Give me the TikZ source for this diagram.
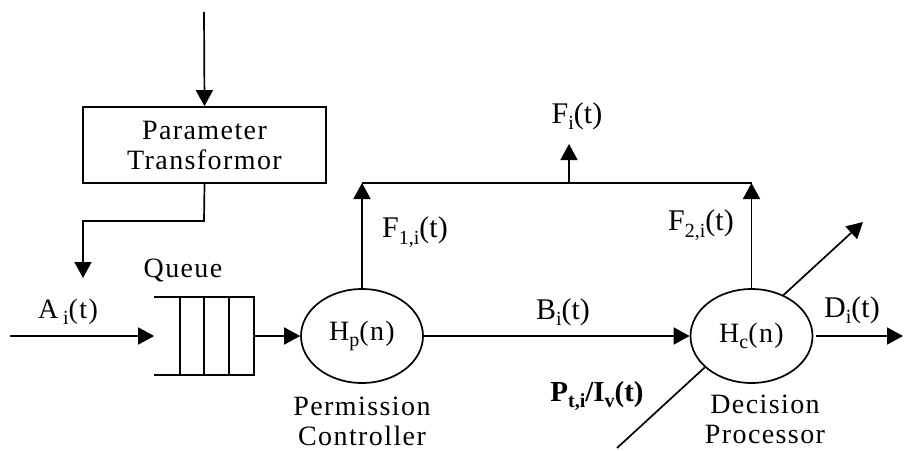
\documentclass[tikz,border=0pt]{standalone}
\usepackage{fontspec}
\setmainfont{Liberation Serif}
\newfontfamily\spacedfont[LetterSpace=5]{Liberation Serif}
\usetikzlibrary{arrows.meta,shapes.geometric}
\newcommand{\lowsub}[1]{\raisebox{-6.5pt}{\fontsize{20}{20}\selectfont #1}}
\begin{document}
\begin{tikzpicture}[x=1pt,y=-1pt,
  line width=1.7pt,
  arr/.style={-{Triangle[length=16pt,width=17pt]}},
  lbl/.style={font=\fontsize{30}{30}\selectfont, inner sep=0pt},
  slbl/.style={font=\fontsize{28}{30}\spacedfont, inner sep=0pt, align=center},
  blk/.style={draw, minimum width=243pt, minimum height=76pt, inner sep=0pt},
  proc/.style={draw, ellipse, fill=white, minimum width=122pt, minimum height=94pt, inner sep=0pt}]
\useasboundingbox (0,0) rectangle (904,450);
% coordinates
\coordinate (ptop) at (204,12);
\coordinate (bend) at (204,221);
\coordinate (atip) at (83,278);
\coordinate (ain) at (10,336);
\coordinate (jl) at (362,183);
\coordinate (jr) at (751.5,183);
\coordinate (jm) at (569,183);
\coordinate (fitip) at (569,144);
\coordinate (dtip) at (903,336);
\coordinate (pbot) at (617,448);
\coordinate (ptip) at (863,222);
% diagonal input/output line (behind the decision processor)
\draw[arr] (pbot) -- (ptip);
% nodes
\node[blk, slbl] (tr) at (204.5,145) {Parameter\\[0pt]Transformor};
\node[minimum width=98pt, minimum height=76pt, inner sep=0pt] (queue) at (204,336) {};
\draw (queue.north west) -- (queue.north east) -- (queue.south east) -- (queue.south west);
\draw (180,298) -- (180,374);
\draw (204,298) -- (204,374);
\draw (229,298) -- (229,374);
\node[proc, slbl] (hp) at (362,336) {H\lowsub{p}(n)};
\node[proc, slbl] (hc) at (751.5,336) {H\lowsub{c}(n)};
% labels
\node[slbl] (ql) at (183,270) {Queue};
\node[slbl] (al) at (68,312) {A\,\lowsub{i}(t)};
\node[slbl] (pc) at (362,421) {Permission\\Controller};
\node[slbl] (dp) at (765,419) {Decision\\Processor};
\node[lbl] (f1) at (415,232) {F\lowsub{1,i}(t)};
\node[lbl] (f2) at (701,225) {F\lowsub{2,i}(t)};
\node[lbl] (fi) at (577,116) {F\lowsub{i}(t)};
\node[lbl] (bl) at (563,312) {B\lowsub{i}(t)};
\node[lbl] (dl) at (852,310) {D\lowsub{i}(t)};
\node[lbl, font=\fontsize{29}{30}\selectfont\bfseries] (pl) at (597,396) {P\lowsub{\bfseries t,i}/I\lowsub{\bfseries v}(t)};
% connectors
\draw[arr] (ptop) -- (tr.north);
\draw[arr] (tr.south) -- (bend) -| (atip);
\draw[arr] (ain) -- (queue.west);
\draw[arr] (queue.east) -- (hp.west);
\draw[arr] (hp.north) -- (jl);
\draw (jl) -- (jr);
\draw[arr] (hc.north) -- (jr);
\draw[arr] (jm) -- (fitip);
\draw[arr] (hp.east) -- (hc.west);
\draw[arr] ([xshift=3pt]hc.east) -- (dtip);
\end{tikzpicture}
\end{document}
